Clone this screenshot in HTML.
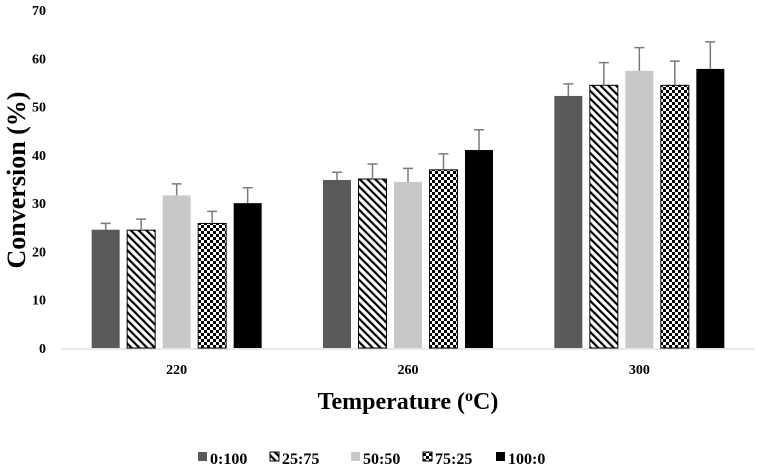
<!DOCTYPE html>
<html><head><meta charset="utf-8"><style>
body{margin:0;background:#fff;}
svg{display:block;font-family:"Liberation Serif",serif;font-weight:bold;}
</style></head><body>
<svg id="c" width="758" height="470">
<defs>
<pattern id="diag" width="5.5" height="5.5" patternUnits="userSpaceOnUse" patternTransform="rotate(-45)">
<rect width="5.5" height="5.5" fill="#fff"/><rect width="2.2" height="5.5" fill="#000"/></pattern>
<pattern id="check" width="6" height="6" patternUnits="userSpaceOnUse">
<rect width="6" height="6" fill="#fff"/><rect width="3" height="3" fill="#000"/><rect x="3" y="3" width="3" height="3" fill="#000"/></pattern>
</defs>
</svg>
<script>
const categories=["220","260","300"];
const seriesNames=["0:100","25:75","50:50","75:25","100:0"];
const s0=[24.5,34.8,52.2];
const s1=[24.4,35.0,54.4];
const s2=[31.6,34.4,57.4];
const s3=[25.8,36.9,54.4];
const s4=[30.0,41.0,57.8];
const e0=[1.3,1.6,2.5];
const e1=[2.3,3.1,4.7];
const e2=[2.4,2.8,4.8];
const e3=[2.5,3.3,5.0];
const e4=[3.2,4.2,5.6];
const yTicks=[0,10,20,30,40,50,60,70];
const series=[s0,s1,s2,s3,s4], errs=[e0,e1,e2,e3,e4];
const fills=["#5a5a5a","url(#diag)","#c8c8c8","url(#check)","#000"];
const NS="http://www.w3.org/2000/svg", svg=document.getElementById('c');
const x0=61,x1=755,y0=348,yTop=10;
const y=v=>y0-(v/70)*(y0-yTop);
const band=(x1-x0)/categories.length;
const cx=i=>x0+band*(i+0.5);
function mk(t,a,p){const e=document.createElementNS(NS,t);for(const k in a)e.setAttribute(k,a[k]);(p||svg).appendChild(e);return e;}
yTicks.forEach(t=>{const e=mk('text',{x:46,y:y(t)+5,'text-anchor':'end','font-size':14});e.textContent=t;

});
const ax=mk('line',{x1:x0,x2:x1,y1:y0+1,y2:y0+1,stroke:'#d0d0d0','stroke-width':1});


const bw=28,step=35.5;
categories.forEach((c,i)=>{
 const t=mk('text',{x:cx(i),y:374,'text-anchor':'middle','font-size':14});t.textContent=c;
 
 
 series.forEach((s,j)=>{
  const bx=cx(i)+(j-2)*step-bw/2;
  const r=mk('rect',{x:bx,y:y(s[i]),width:bw,height:y0-y(s[i]),fill:fills[j],stroke:(j==1||j==3)?'#000':'none','stroke-width':1});
  
  
  const top=y(s[i]+errs[j][i]),mx=bx+bw/2;
  const g=mk('path',{d:`M${mx},${y(s[i])}V${top}M${mx-5},${top}H${mx+5}`,stroke:'#7a7a7a','stroke-width':1.5,fill:'none'});
  
  
 });
});
const yt=mk('text',{transform:'translate(25,180) rotate(-90)','text-anchor':'middle','font-size':26});yt.textContent='Conversion (%)';


const xt=mk('text',{x:408,y:409,'text-anchor':'middle','font-size':24});
xt.innerHTML='Temperature (<tspan font-size="16" dy="-8">o</tspan><tspan dy="8">C)</tspan>';


const lx=[198,270,351,423,496];
seriesNames.forEach((n,j)=>{
 const g=mk('g',{});
 
 
 mk('rect',{x:lx[j],y:452,width:9,height:9,fill:fills[j],stroke:(j==1||j==3)?'#000':'none'},g);
 const t=mk('text',{x:lx[j]+12,y:464,'font-size':16},g);t.textContent=n;
});
</script>
</body></html>
